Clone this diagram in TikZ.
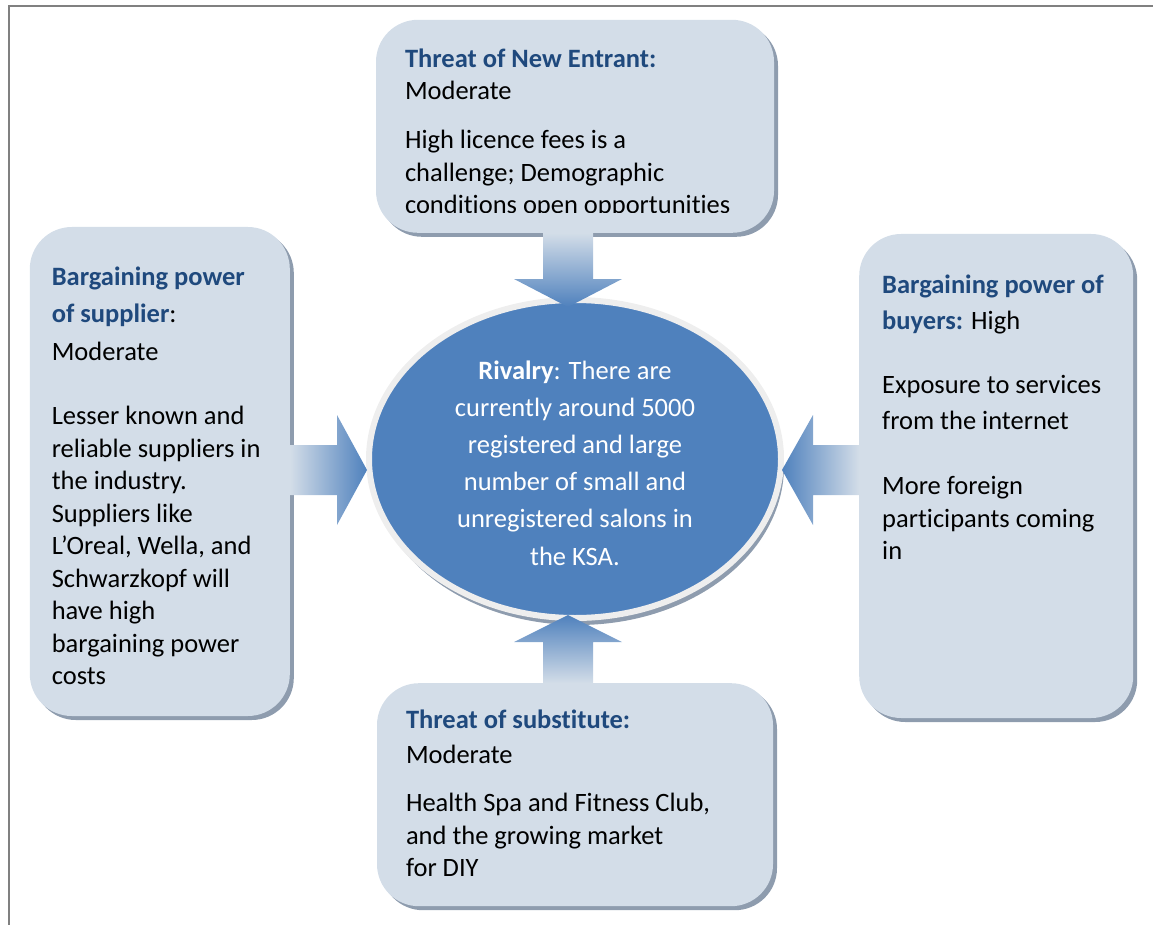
\documentclass[tikz,border=0pt]{standalone}
\usepackage{fontspec}
\setmainfont{Carlito}[Ligatures=NoCommon]
\usepackage{xcolor}
\usepackage{tikz}
\usetikzlibrary{shapes,arrows,positioning,shadows,calc}

\definecolor{boxfill}{HTML}{D3DDE8}
\definecolor{boxshade}{HTML}{8E9CAE}
\definecolor{rivalblue}{HTML}{4F81BD}
\definecolor{ringgray}{HTML}{EEEEEE}
\definecolor{titleblue}{HTML}{1F497D}
\newcommand{\forcehead}[1]{\textcolor{titleblue}{\textbf{#1}}}

\begin{document}
\begin{tikzpicture}[x=1pt, y=-1pt, every node/.style={font=\fontsize{26.5}{32.5}\selectfont}]
  \tikzset{
    force/.style={rectangle, fill=boxfill, rounded corners=42pt, inner sep=0pt,
      drop shadow={shadow xshift=4pt, shadow yshift=-4pt, fill=boxshade, opacity=1}},
    rivalry/.style={ellipse, draw=ringgray, line width=6pt, fill=rivalblue, minimum width=412pt, minimum height=318pt,
      inner sep=0pt, drop shadow={shadow xshift=3pt, shadow yshift=-7pt, fill=boxshade, opacity=1}},
    rivalrytext/.style={inner sep=0pt, align=center, text=white, font=\fontsize{26.5}{37.2}\selectfont},
    forcetext/.style={anchor=north west, inner sep=0pt, align=left}
  }
  \useasboundingbox (0,0) rectangle (1153,925);

  % frame
  \draw[gray, line width=2pt] (8.5,925) -- (8.5,6.5) -- (1153,6.5);

  % nodes
  \node[rivalry] (rivalry) at (575,459) {};
  \node[force, minimum width=398pt, minimum height=213pt, above=64pt of rivalry] (entrant) {};
  \node[force, minimum width=396pt, minimum height=223pt, below=62pt of rivalry] (substitute) {};
  \node[force, minimum width=260pt, minimum height=489pt, left=76pt of rivalry, yshift=-12.5pt] (supplier) {};
  \node[force, minimum width=274pt, minimum height=484pt, right=75pt of rivalry, yshift=-17pt] (buyers) {};

  % texts
  \node[rivalrytext] (rivalryt) at ([yshift=-4pt]rivalry.center) {\textbf{Rivalry}: There are\\ currently around 5000\\ registered and large\\ number of small and\\ unregistered salons in\\ the KSA.};
  \begin{scope}
    \clip (entrant.north west) rectangle ([yshift=20pt]entrant.south east);
    \node[forcetext] (entrantt) at ([shift={(29,29)}]entrant.north west) {\forcehead{Threat of New Entrant:}\\ Moderate\\[16.5pt] High licence fees is a\\ challenge; Demographic\\ conditions open opportunities};
  \end{scope}
  \node[forcetext] (suppliert) at ([shift={(22,40)}]supplier.north west) {\forcehead{Bargaining power}\\[4.5pt] \forcehead{of supplier}:\\[5.5pt] Moderate\\[31.5pt] Lesser known and\\ reliable suppliers in\\ the industry.\\ Suppliers like\\ L’Oreal, Wella, and\\ Schwarzkopf will\\ have high\\ bargaining power\\ costs};
  \node[forcetext] (buyerst) at ([shift={(23,41)}]buyers.north west) {\forcehead{Bargaining power of}\\[3.5pt] \forcehead{buyers:} High\\[31.5pt] Exposure to services\\[3.5pt] from the internet\\[32.5pt] More foreign\\ participants coming\\ in};
  \node[forcetext] (substitutet) at ([shift={(29,27)}]substitute.north west) {\forcehead{Threat of substitute:}\\[2.5pt] Moderate\\[15.5pt] Health Spa and Fitness Club,\\ and the growing market\\ for DIY};

  % arrows
  \coordinate (tipN) at ($(rivalry.north)+(-7,10)$);
  \coordinate (tipS) at ($(rivalry.south)+(-7,-6)$);
  \coordinate (tipW) at ($(rivalry.west)+(1,11)$);
  \coordinate (tipE) at ($(rivalry.east)+(-2,11)$);
  \shade[top color=boxfill, bottom color=rivalblue] (tipN) -- ++(-54,-28) -- ++(29,0) |- (entrant.south) -| ($(tipN)+(25,-28)$) -- ++(29,0) -- cycle;
  \shade[top color=rivalblue, bottom color=boxfill] (tipS) -- ++(-54,27) -- ++(29,0) |- (substitute.north) -| ($(tipS)+(25,27)$) -- ++(29,0) -- cycle;
  \shade[left color=boxfill, right color=rivalblue] (tipW) -- ++(-30,-55) -- ++(0,30) -| (supplier.east) |- ($(tipW)+(-30,25)$) -- ++(0,30) -- cycle;
  \shade[left color=rivalblue, right color=boxfill] (tipE) -- ++(31,-55) -- ++(0,30) -| (buyers.west) |- ($(tipE)+(31,25)$) -- ++(0,30) -- cycle;
\end{tikzpicture}
\end{document}
